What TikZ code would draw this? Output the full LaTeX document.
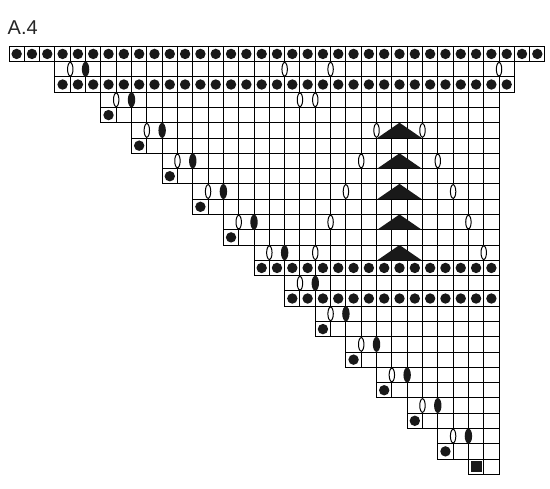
\documentclass[tikz,border=0pt]{standalone}
\usepackage{fontspec}
\setmainfont{Liberation Sans}
\begin{document}
\begin{tikzpicture}[x=1pt,y=-1pt,
  gridline/.style={line width=1pt, draw=black},
  dotmark/.style={fill=black!90},
  openoval/.style={draw=black, fill=white, line width=1pt},
  filloval/.style={fill=black!90},
  triangmark/.style={fill=black!90}]
\useasboundingbox (0,0) rectangle (550,489);
\node[anchor=base west, inner sep=0pt, text=black!85, font=\fontsize{20}{20}\selectfont] (title) at (7.5,34.5) {A.4};
\begin{scope}[shift={(9,46.3)}, x=15.314pt, y=-15.286pt]
  % grid rows: row/start/end
  \foreach \r/\s/\e in {0/0/35, 1/3/33, 2/3/33, 3/6/32, 4/6/32, 5/8/32, 6/8/32,
      7/10/32, 8/10/32, 9/12/32, 10/12/32, 11/14/32, 12/14/32, 13/16/32, 14/16/32,
      15/18/32, 16/18/32, 17/20/32, 18/20/32, 19/22/32, 20/22/32, 21/24/32, 22/24/32,
      23/26/32, 24/26/32, 25/28/32, 26/28/32, 27/30/32} {
    \pgfmathtruncatemacro\rr{\r+1}
    \pgfmathtruncatemacro\a{\s+1}
    \pgfmathtruncatemacro\b{\e-1}
    \draw[gridline] (\s,\r) rectangle (\e,\rr);
    \foreach \c in {\a,...,\b} { \draw[gridline] (\c,\r) -- (\c,\rr); }
  }
  % full dot rows
  \foreach \c in {0,...,34} { \fill[dotmark] (\c+0.5,0.5) circle (5.2pt); }
  \foreach \c in {3,...,32} { \fill[dotmark] (\c+0.5,2.5) circle (5.2pt); }
  \foreach \c in {16,...,31} { \fill[dotmark] (\c+0.5,14.5) circle (5.2pt); }
  \foreach \c in {18,...,31} { \fill[dotmark] (\c+0.5,16.5) circle (5.2pt); }
  % single dots at row starts
  \foreach \r/\s in {4/6, 6/8, 8/10, 10/12, 12/14, 18/20, 20/22, 22/24, 24/26, 26/28} {
    \fill[dotmark] (\s+0.5,\r+0.5) circle (5.2pt);
  }
  % triangles
  \foreach \r in {5,7,9,11,13} {
    \fill[triangmark] (24.05,\r+1) -- (25.5,\r) -- (26.95,\r+1) -- cycle;
  }
  % oval pairs at row starts: row/start
  \foreach \r/\s in {1/3, 3/6, 5/8, 7/10, 9/12, 11/14, 13/16, 15/18, 17/20, 19/22, 21/24, 23/26, 25/28} {
    \draw[openoval] (\s+1,\r+0.5) ellipse (2.7pt and 6.8pt);
    \fill[filloval] (\s+2,\r+0.5) ellipse (3.7pt and 7.5pt);
  }
  % extra open ovals: row/line
  \foreach \r/\l in {1/18, 1/21, 1/32, 3/19, 3/20, 5/24, 5/27, 7/23, 7/28,
      9/22, 9/29, 11/21, 11/30, 13/20, 13/31} {
    \draw[openoval] (\l,\r+0.5) ellipse (2.7pt and 6.8pt);
  }
  % square
  \fill[black!90] (30.5,27.5) ++(-5.5pt,-5.5pt) rectangle ++(11pt,11pt);
\end{scope}
\end{tikzpicture}
\end{document}
